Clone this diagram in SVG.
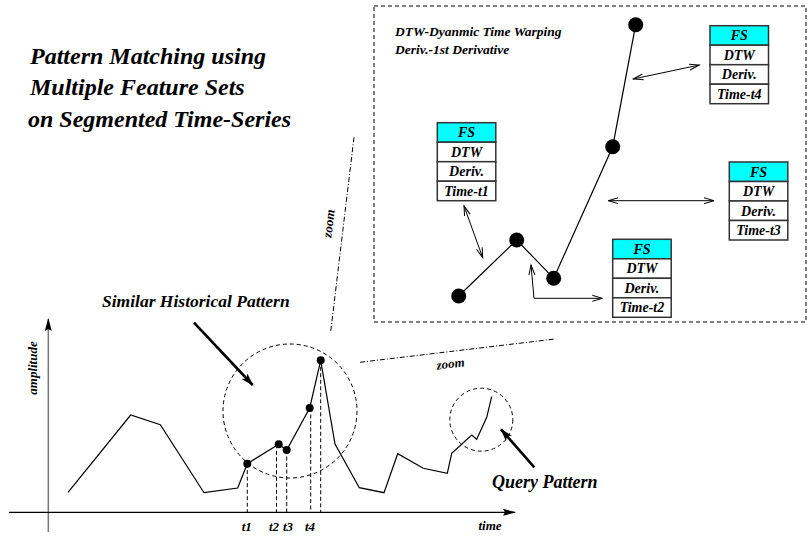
<svg xmlns="http://www.w3.org/2000/svg" width="808" height="540" viewBox="0 0 808 540">
<style>
text{font-family:"Liberation Serif","Times New Roman",serif;font-weight:bold;font-style:italic;fill:#000}
.title{font-size:24px}
.lbl{font-size:17.5px}
.sm{font-size:13px}
.hd{font-size:13.5px}
.cell{font-size:14px;text-anchor:middle}
.line{fill:none;stroke:#000;stroke-width:1.2}
.dash{fill:none;stroke:#000;stroke-width:1;stroke-dasharray:4,3}
.vdash{fill:none;stroke:#000;stroke-width:1;stroke-dasharray:4,2.5}
.dashdot{fill:none;stroke:#000;stroke-width:1;stroke-dasharray:5,2,1,2}
.thin{fill:none;stroke:#000;stroke-width:1;marker-start:url(#hs);marker-end:url(#he)}
.thick{fill:none;stroke:#000;stroke-width:2.6;marker-end:url(#big)}
.box{fill:#fff;stroke:#333;stroke-width:1.5}
.hdr{fill:#00ffff;stroke:#333;stroke-width:1.5}
.dot{fill:#000}
</style>
<defs>
<marker id="he" markerWidth="12" markerHeight="8" refX="10" refY="4" orient="auto" markerUnits="userSpaceOnUse"><path d="M0,1 L10,4 L0,7" fill="none" stroke="#000" stroke-width="1"/></marker>
<marker id="hs" markerWidth="12" markerHeight="8" refX="2" refY="4" orient="auto" markerUnits="userSpaceOnUse"><path d="M12,1 L2,4 L12,7" fill="none" stroke="#000" stroke-width="1"/></marker>
<marker id="big" markerWidth="14" markerHeight="10" refX="12" refY="5" orient="auto" markerUnits="userSpaceOnUse"><path d="M0,1 L13,5 L0,9 L3,5 z" fill="#000"/></marker>
<marker id="ax" markerWidth="14" markerHeight="10" refX="12" refY="5" orient="auto" markerUnits="userSpaceOnUse"><path d="M0,1.5 L13,5 L0,8.5 L2,5 z" fill="#000"/></marker>
</defs>

<g id="title">
<text class="title" x="30" y="64">Pattern Matching using</text>
<text class="title" x="30" y="95">Multiple Feature Sets</text>
<text class="title" x="28" y="127">on Segmented Time-Series</text>
</g>

<g id="axes">
<line x1="48.3" y1="532" x2="48.3" y2="319" stroke="#777" stroke-width="1.5" marker-end="url(#ax)"/>
<line x1="9" y1="512.3" x2="515" y2="512.3" stroke="#000" stroke-width="1.3" marker-end="url(#ax)"/>
<text class="sm" x="37" y="368" text-anchor="middle" transform="rotate(-90 37 368)">amplitude</text>
<text class="sm" x="490" y="530" text-anchor="middle">time</text>
</g>

<g id="series">
<polyline class="line" points="68,492.3 130.7,415 160.3,424.7 204,492.7 237.7,488 247.3,463.7 278.7,444.3 286.7,450 309.7,408 320.7,360.3 335,444 359.3,487.7 384,492.7 397.7,453.7 423.3,468.3 447.3,473.3 451.7,453.3 471.7,435 476.7,439.3 486.7,417.3 491.7,396.7"/>
<circle class="dot" cx="247.3" cy="463.7" r="4"/>
<circle class="dot" cx="278.7" cy="444.3" r="4"/>
<circle class="dot" cx="286.7" cy="450" r="4"/>
<circle class="dot" cx="309.7" cy="408" r="4"/>
<circle class="dot" cx="320.7" cy="360.3" r="4"/>
<line class="vdash" x1="247.3" y1="463.7" x2="247.3" y2="512"/>
<line class="vdash" x1="276.5" y1="444.3" x2="276.5" y2="512"/>
<line class="vdash" x1="286.7" y1="450" x2="286.7" y2="512"/>
<line class="vdash" x1="310.7" y1="408" x2="310.7" y2="512"/>
<line class="vdash" x1="320.7" y1="360.3" x2="320.7" y2="512"/>
<text class="sm" x="246.7" y="531" text-anchor="middle">t1</text>
<text class="sm" x="274" y="531" text-anchor="middle">t2</text>
<text class="sm" x="288" y="531" text-anchor="middle">t3</text>
<text class="sm" x="310" y="531" text-anchor="middle">t4</text>
</g>

<g id="historical">
<circle class="dash" cx="290" cy="411" r="67"/>
<text class="lbl" x="102" y="307">Similar Historical Pattern</text>
</g>

<g id="query">
<circle class="dash" cx="481.3" cy="419.7" r="31.5"/>
<text class="lbl" x="492" y="488" style="font-size:18px">Query Pattern</text>
</g>

<g id="inset">
<rect class="dash" x="374" y="6" width="432" height="316"/>
<text class="hd" x="395" y="36">DTW-Dyanmic Time Warping</text>
<text class="hd" x="395" y="54">Deriv.-1st Derivative</text>
<polyline class="line" points="458.7,296 516.7,240 553.7,278.3 612.7,146.7 635.7,24.7"/>
<circle class="dot" cx="458.7" cy="296" r="7.5"/>
<circle class="dot" cx="516.7" cy="240" r="7.5"/>
<circle class="dot" cx="553.7" cy="278.3" r="7.5"/>
<circle class="dot" cx="612.7" cy="146.7" r="7.5"/>
<circle class="dot" cx="635.7" cy="24.7" r="7.5"/>
</g>

<g id="fs-t4" transform="translate(710 25.7)">
<rect class="hdr" x="0" y="0" width="58.5" height="19.5"/>
<rect class="box" x="0" y="19.5" width="58.5" height="19.5"/>
<rect class="box" x="0" y="39" width="58.5" height="19.5"/>
<rect class="box" x="0" y="58.5" width="58.5" height="19.5"/>
<text class="cell" x="29.25" y="14.5">FS</text>
<text class="cell" x="29.25" y="34">DTW</text>
<text class="cell" x="29.25" y="53.5">Deriv.</text>
<text class="cell" x="29.25" y="73">Time-t4</text>
</g>
<g id="fs-t1" transform="translate(437.3 122.7)">
<rect class="hdr" x="0" y="0" width="58.5" height="19.5"/>
<rect class="box" x="0" y="19.5" width="58.5" height="19.5"/>
<rect class="box" x="0" y="39" width="58.5" height="19.5"/>
<rect class="box" x="0" y="58.5" width="58.5" height="19.5"/>
<text class="cell" x="29.25" y="14.5">FS</text>
<text class="cell" x="29.25" y="34">DTW</text>
<text class="cell" x="29.25" y="53.5">Deriv.</text>
<text class="cell" x="29.25" y="73">Time-t1</text>
</g>
<g id="fs-t3" transform="translate(729.3 162)">
<rect class="hdr" x="0" y="0" width="58.5" height="19.5"/>
<rect class="box" x="0" y="19.5" width="58.5" height="19.5"/>
<rect class="box" x="0" y="39" width="58.5" height="19.5"/>
<rect class="box" x="0" y="58.5" width="58.5" height="19.5"/>
<text class="cell" x="29.25" y="14.5">FS</text>
<text class="cell" x="29.25" y="34">DTW</text>
<text class="cell" x="29.25" y="53.5">Deriv.</text>
<text class="cell" x="29.25" y="73">Time-t3</text>
</g>
<g id="fs-t2" transform="translate(612.7 239.3)">
<rect class="hdr" x="0" y="0" width="58.5" height="19.5"/>
<rect class="box" x="0" y="19.5" width="58.5" height="19.5"/>
<rect class="box" x="0" y="39" width="58.5" height="19.5"/>
<rect class="box" x="0" y="58.5" width="58.5" height="19.5"/>
<text class="cell" x="29.25" y="14.5">FS</text>
<text class="cell" x="29.25" y="34">DTW</text>
<text class="cell" x="29.25" y="53.5">Deriv.</text>
<text class="cell" x="29.25" y="73">Time-t2</text>
</g>

<g id="connectors">
<line class="thin" x1="633.3" y1="79" x2="699.3" y2="65"/>
<line class="thin" x1="608.3" y1="200.7" x2="714" y2="200.7"/>
<line class="thin" x1="464" y1="206" x2="482.7" y2="257.7"/>
<polyline class="thin" points="531,265 534,298.3 602.3,298.3"/>
<line class="thick" x1="194" y1="322.7" x2="252.7" y2="385"/>
<line class="thick" x1="534.3" y1="467.3" x2="501" y2="429.3"/>
<line class="dashdot" x1="354" y1="137.3" x2="330.7" y2="331.7"/>
<line class="dashdot" x1="360" y1="362.3" x2="555" y2="339"/>
<text class="sm" x="333" y="224" text-anchor="middle" transform="rotate(-83 333 224)">zoom</text>
<text class="sm" x="451" y="368" text-anchor="middle" transform="rotate(-7 451 368)">zoom</text>
</g>
</svg>
